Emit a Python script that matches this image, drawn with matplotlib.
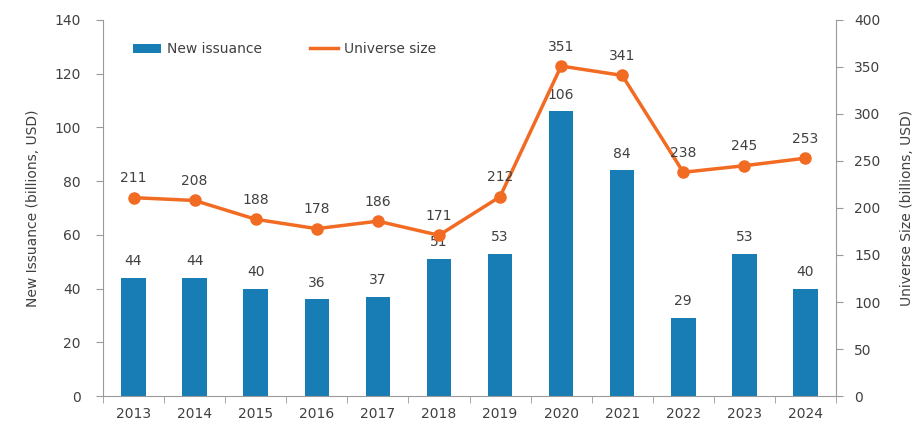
import matplotlib
matplotlib.use("Agg")
import matplotlib.pyplot as plt
from matplotlib.lines import Line2D
import numpy as np

years = ["2013", "2014", "2015", "2016", "2017", "2018", "2019", "2020", "2021", "2022", "2023", "2024"]
new_issuance = [44, 44, 40, 36, 37, 51, 53, 106, 84, 29, 53, 40]
universe_size = [211, 208, 188, 178, 186, 171, 212, 351, 341, 238, 245, 253]

bar_color = "#177db4"
line_color = "#f26b23"
text_color = "#404040"
spine_color = "#9a9a9a"

plt.rcParams['font.family'] = ['DejaVu Sans']
fig = plt.figure(figsize=(9.17, 4.25), dpi=100)
ax = fig.add_axes([0.1123, 0.0682, 0.7994, 0.8848])
ax2 = ax.twinx()

x = np.arange(len(years))
ax.bar(x, new_issuance, width=0.4, color=bar_color, label="New issuance", zorder=2)
for xi, v in zip(x, new_issuance):
    ax.annotate(f"{v}", (xi, v), xytext=(0, 7), textcoords="offset points",
                ha="center", va="bottom", fontsize=10, color=text_color)

ax2.plot(x, universe_size, color=line_color, lw=2.5, marker="o", ms=8, label="Universe size", zorder=3)
for xi, v in zip(x, universe_size):
    ax2.annotate(f"{v}", (xi, v), xytext=(0, 9), textcoords="offset points",
                 ha="center", va="bottom", fontsize=10, color=text_color)

ax.set_xlim(-0.5, len(years) - 0.5)
ax.set_ylim(0, 140)
ax2.set_ylim(0, 400)
ax.set_yticks(np.arange(0, 141, 20))
ax2.set_yticks(np.arange(0, 401, 50))
ax.set_xticks(x)
ax.set_xticklabels(years)
ax.set_xticks(np.arange(-0.5, len(years), 1), minor=True)
ax.tick_params(axis="x", which="major", length=0, pad=8, labelsize=10, labelcolor=text_color)
ax.tick_params(axis="x", which="minor", length=5, color=spine_color)
ax.tick_params(axis="y", length=5, color=spine_color, labelsize=10, labelcolor=text_color, pad=11)
ax2.tick_params(axis="y", length=5, color=spine_color, labelsize=10, labelcolor=text_color, pad=8)

for a in (ax, ax2):
    a.spines["top"].set_visible(False)
    for s in ("left", "right", "bottom"):
        a.spines[s].set_color(spine_color)
ax.spines["right"].set_visible(False)
ax2.spines["left"].set_visible(False)
ax2.spines["bottom"].set_visible(False)

ax.set_ylabel("New Issuance (billions, USD)", fontsize=10, color=text_color, labelpad=10)
ax2.set_ylabel("Universe Size (billions, USD)", fontsize=10, color=text_color, labelpad=14)

h1, l1 = ax.get_legend_handles_labels()
h2 = [Line2D([0], [0], color=line_color, lw=2.5)]
ax.legend(h1 + h2, l1 + ["Universe size"], loc="upper left", bbox_to_anchor=(0.033, 0.956),
          borderaxespad=0, ncol=2, frameon=False, fontsize=10, handlelength=2.0,
          handleheight=0.6, handletextpad=0.45, columnspacing=3.5, labelcolor=text_color)

fig.savefig("out.png", dpi=100)
